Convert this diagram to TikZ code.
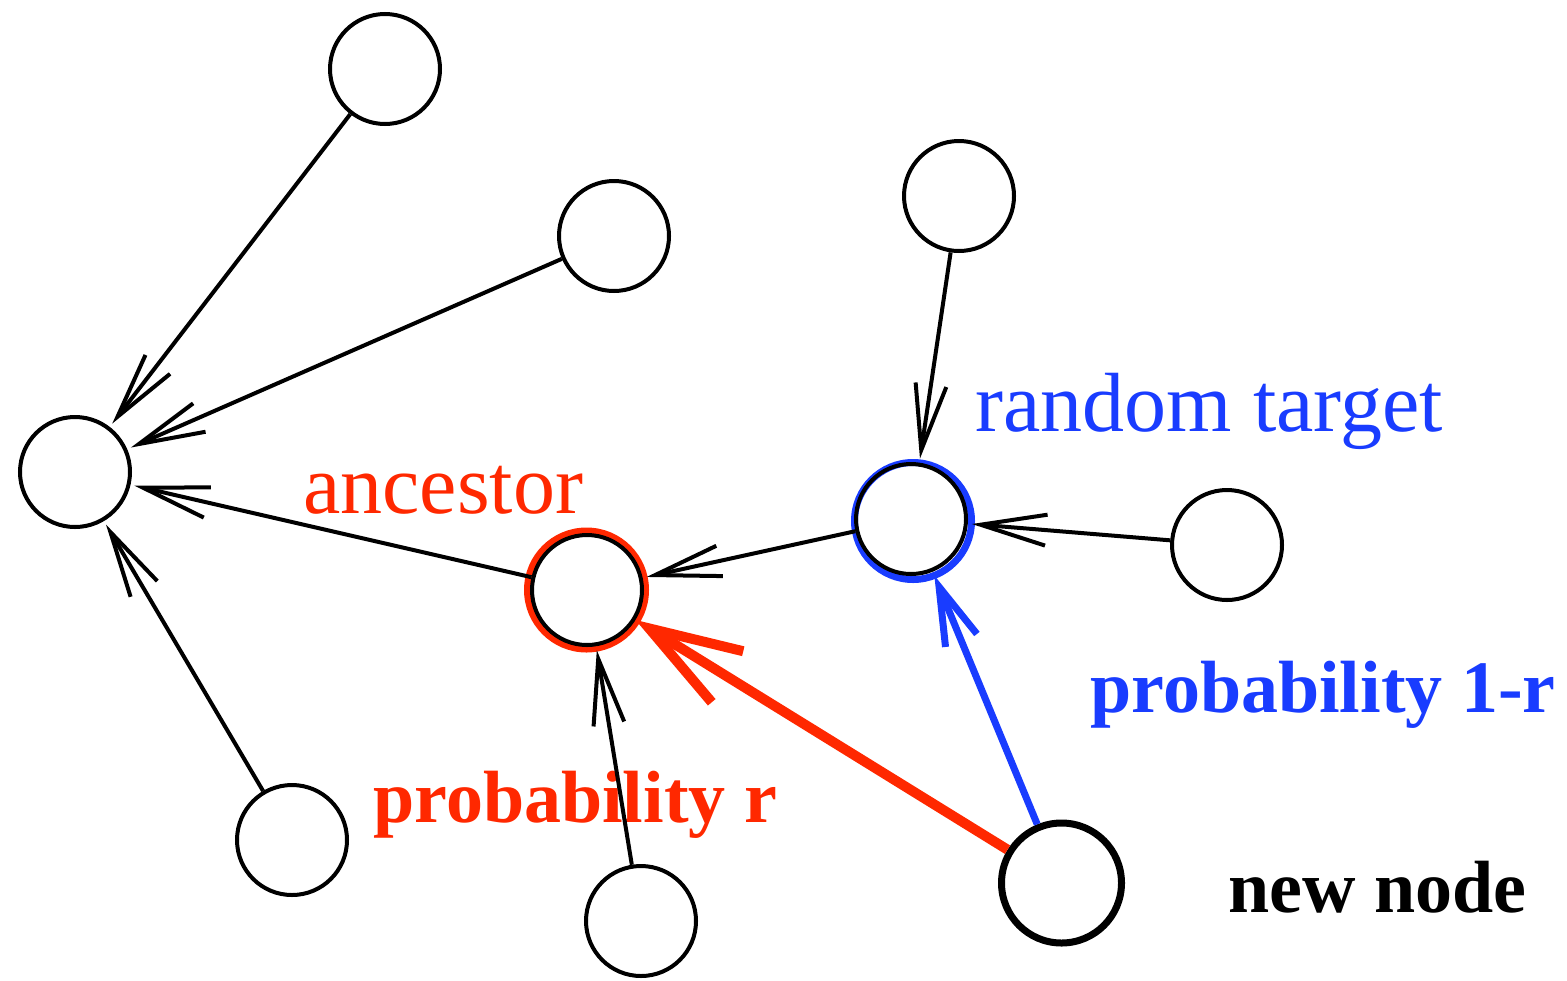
\documentclass[tikz,border=0pt]{standalone}
\usepackage{fontspec}
\setmainfont{Liberation Serif}
\usetikzlibrary{arrows.meta}
\definecolor{myred}{RGB}{255,40,0}
\definecolor{myblue}{RGB}{25,60,255}
\begin{document}
\begin{tikzpicture}[x=0.5pt,y=-0.5pt,
  vtx/.style={circle,draw=black,line width=2pt,minimum size=55pt,inner sep=0pt},
  newvtx/.style={circle,draw=black,line width=3.5pt,minimum size=60pt,inner sep=0pt},
  edge/.style={line width=2pt,-{Straight Barb[length=33pt,width=15.5pt]},shorten >=2pt},
  rededge/.style={draw=myred,line width=5pt,-{Straight Barb[length=46pt,width=30pt]}},
  blueedge/.style={draw=myblue,line width=3.5pt,-{Straight Barb[length=29pt,width=17pt]},shorten >=2pt},
  lbl/.style={anchor=base west,inner sep=0pt,font=\fontsize{42}{50}\selectfont},
  blbl/.style={anchor=base west,inner sep=0pt,font=\fontsize{37}{44}\selectfont\bfseries}]
\useasboundingbox (0,0) rectangle (1567,980);
% coloured rings
\draw[myred,line width=4pt] (586.5,590) circle[radius=29.25pt];
\draw[myblue,line width=3.5pt] (913,521) circle[radius=29.25pt];
% nodes
\node[vtx] (A) at (385,69) {};
\node[vtx] (B) at (614,236) {};
\node[vtx] (C) at (75,472) {};
\node[vtx] (D) at (292,840) {};
\node[vtx] (E) at (587,590) {};
\node[vtx] (F) at (641,921) {};
\node[vtx] (G) at (959,196) {};
\node[vtx] (H) at (911,519) {};
\node[vtx] (I) at (1227,545) {};
\node[newvtx] (J) at (1061.5,883) {};
% labels
\node[lbl,text=myblue] (tRT) at (975,431) {random target};
\node[lbl,text=myred] (tAN) at (303,513) {ancestor};
\node[blbl,text=myred] (tPR) at (373,822) {probability r};
\node[blbl,text=myblue] (tP1) at (1090,712) {probability 1-r};
\node[blbl,text=black] (tNN) at (1228,912) {new node};
% connectors
\draw[edge] (A) -- (C);
\draw[edge] (B) -- (C);
\draw[edge] (E) -- (C);
\draw[edge] (D) -- (C);
\draw[edge] (H) -- (E);
\draw[edge] (F) -- (E);
\draw[edge] (G) -- (H);
\draw[edge] (I) -- (H);
\draw[rededge] (J) -- (E);
\draw[blueedge] (J) -- (H);
\end{tikzpicture}
\end{document}
